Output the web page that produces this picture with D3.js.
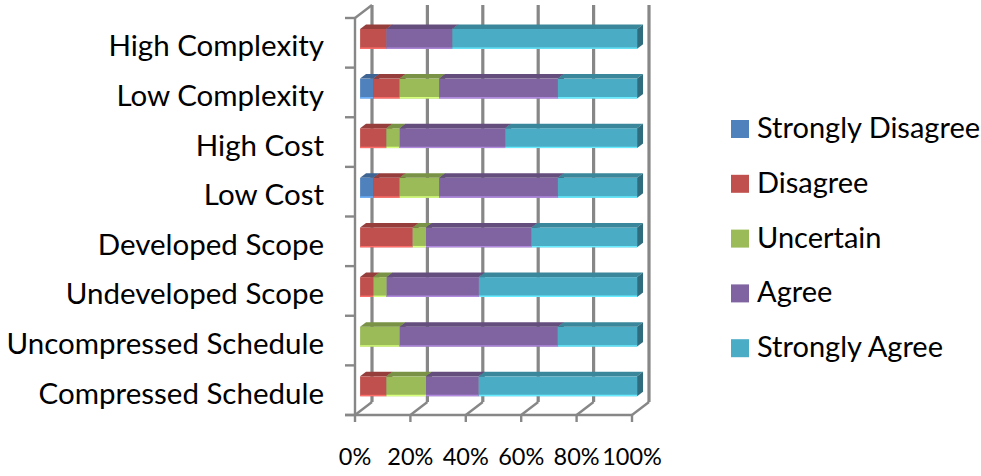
<!DOCTYPE html>
<html>
<head>
<meta charset="utf-8">
<script src="https://cdn.jsdelivr.net/npm/d3@7/dist/d3.min.js"></script>
<style>
  html, body { margin: 0; padding: 0; background: #fff; }
  svg text { font-family: Lato, "Open Sans", sans-serif; fill: #000; }
</style>
</head>
<body>
<svg id="chart" width="981" height="476"></svg>
<script>
// Survey responses, percent of respondents per factor (top row first)
const categories = [
  "High Complexity", "Low Complexity", "High Cost", "Low Cost",
  "Developed Scope", "Undeveloped Scope", "Uncompressed Schedule", "Compressed Schedule"
];
const stronglyDisagree = [0, 4.8, 0, 4.8, 0, 0, 0, 0];
const disagree         = [9.5, 9.5, 9.5, 9.5, 19.0, 4.8, 0, 9.5];
const uncertain        = [0, 14.3, 4.8, 14.3, 4.8, 4.8, 14.3, 14.3];
const agree            = [23.8, 42.9, 38.1, 42.9, 38.1, 33.3, 57.1, 19.0];
const stronglyAgree    = [66.7, 28.6, 47.6, 28.6, 38.1, 57.1, 28.6, 57.1];

const seriesNames = ["Strongly Disagree", "Disagree", "Uncertain", "Agree", "Strongly Agree"];
const seriesValues = [stronglyDisagree, disagree, uncertain, agree, stronglyAgree];
const seriesColors = ["#4F81BD", "#C0504D", "#9BBB59", "#8064A2", "#4BACC6"];
const tickLabels = ["0%", "20%", "40%", "60%", "80%", "100%"];

const rows = categories.map((c, i) => {
  const r = { category: c };
  seriesNames.forEach((s, k) => { r[s] = seriesValues[k][i]; });
  return r;
});

const svg = d3.select("#chart");

// Front plane of the 3-D box; the back wall sits one depth vector away
const x = d3.scaleLinear().domain([0, 1]).range([355, 632]);
const y = d3.scaleBand().domain(categories).range([18, 415]).paddingInner(0.6).paddingOuter(0.3);
const color = d3.scaleOrdinal().domain(seriesNames).range(seriesColors);
const DX = 17, DY = -13;              // box depth
const front = 0.3, thick = 0.35;      // bar position and thickness within the depth
const bx = DX * front, by = DY * front;
const tx = DX * thick, ty = DY * thick;

const gridColor = "#878787";
const [y0, y1] = y.range();
const ticks = x.ticks(5);

const walls = svg.append("g").attr("stroke", gridColor).attr("fill", "none");

// back-wall gridlines
walls.selectAll("line.grid").data(ticks).join("line")
  .attr("class", "grid")
  .attr("x1", d => x(d) + DX).attr("x2", d => x(d) + DX)
  .attr("y1", y0 + DY).attr("y2", y1 + DY)
  .attr("stroke-width", 3.2);

// floor: front edge, depth lines and tick marks
walls.append("line").attr("x1", 345).attr("x2", x(1)).attr("y1", y1).attr("y2", y1).attr("stroke-width", 2.4);
walls.selectAll("line.floor").data(ticks).join("line")
  .attr("class", "floor")
  .attr("x1", d => x(d)).attr("y1", y1)
  .attr("x2", d => x(d) + DX).attr("y2", y1 + DY)
  .attr("stroke-width", 2.4);
walls.selectAll("line.xtick").data(ticks).join("line")
  .attr("class", "xtick")
  .attr("x1", d => x(d)).attr("x2", d => x(d))
  .attr("y1", y1).attr("y2", y1 + 7)
  .attr("stroke-width", 2.4);

// left wall: front edge, top edge and category ticks
walls.append("line").attr("x1", x(0)).attr("x2", x(0)).attr("y1", y0).attr("y2", y1).attr("stroke-width", 2.4);
walls.append("line").attr("x1", x(0)).attr("y1", y0).attr("x2", x(0) + DX).attr("y2", y0 + DY).attr("stroke-width", 2.4);
walls.selectAll("line.ytick").data(d3.range(categories.length + 1)).join("line")
  .attr("class", "ytick")
  .attr("x1", x(0) - 10).attr("x2", x(0))
  .attr("y1", i => y0 + i * y.step()).attr("y2", i => y0 + i * y.step())
  .attr("stroke-width", 2.4);

// stacked 100% bars drawn as prisms
const stack = d3.stack().keys(seriesNames).offset(d3.stackOffsetExpand);
const layers = stack(rows);

const bars = svg.append("g");
categories.forEach((cat, i) => {
  const g = bars.append("g");
  layers.forEach(layer => {
    const seg = layer[i];
    if (seg[1] - seg[0] <= 0.0005) return;
    const c = d3.color(color(layer.key));
    const xa = x(seg[0]) + bx, xb = x(seg[1]) + bx;
    const ya = y(cat) + by, yb = ya + y.bandwidth();
    g.append("rect")
      .attr("x", xa).attr("y", ya).attr("width", xb - xa).attr("height", yb - ya)
      .attr("fill", c.formatHex());
    g.append("line")
      .attr("x1", xa).attr("x2", xb).attr("y1", yb - 0.7).attr("y2", yb - 0.7)
      .attr("stroke", c.brighter(0.9).formatHex()).attr("stroke-width", 1.4);
    g.append("path")
      .attr("d", `M${xa},${ya}L${xb},${ya}L${xb + tx},${ya + ty}L${xa + tx},${ya + ty}Z`)
      .attr("fill", c.darker(0.7).formatHex());
    g.append("path")
      .attr("d", `M${xb},${ya}L${xb + tx},${ya + ty}L${xb + tx},${yb + ty}L${xb},${yb}Z`)
      .attr("fill", c.darker(1.3).formatHex());
  });
});

// category labels
svg.append("g").selectAll("text").data(categories).join("text")
  .attr("x", 324)
  .attr("y", d => y(d) + y.bandwidth() / 2 + 13.5)
  .attr("text-anchor", "end")
  .attr("font-size", 29.5)
  .text(d => d);

// value axis labels
svg.append("g").selectAll("text").data(ticks).join("text")
  .attr("x", d => x(d))
  .attr("y", 465)
  .attr("text-anchor", "middle")
  .attr("font-size", 23.5)
  .text((d, i) => tickLabels[i]);

// legend
const legend = svg.append("g").attr("transform", "translate(731,138)");
const item = legend.selectAll("g").data(seriesNames).join("g")
  .attr("transform", (d, i) => `translate(0,${i * 54.8})`);
item.append("rect").attr("x", 0).attr("y", -18).attr("width", 18).attr("height", 18)
  .attr("fill", d => color(d));
item.append("text").attr("x", 26).attr("y", 0).attr("font-size", 29).text(d => d);
</script>
</body>
</html>
